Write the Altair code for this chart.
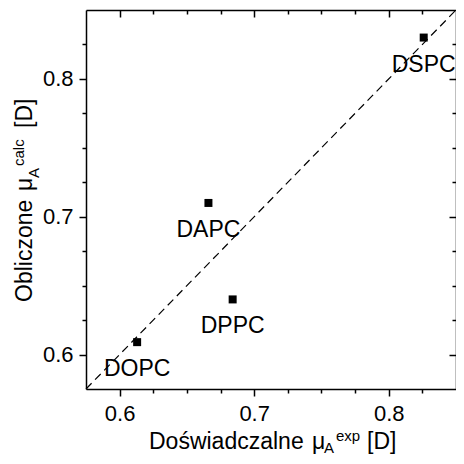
import altair as alt
import pandas as pd

# ---- data ----
names = ["DOPC", "DAPC", "DPPC", "DSPC"]
mu_exp = [0.613, 0.666, 0.684, 0.826]
mu_calc = [0.609, 0.710, 0.640, 0.830]
diag = [0.575, 0.85]
tick_vals = [0.6, 0.625, 0.65, 0.675, 0.7, 0.725, 0.75, 0.775, 0.8, 0.825]

df = pd.DataFrame({"name": names, "exp": mu_exp, "calc": mu_calc})
ddf = pd.DataFrame({"a": diag, "b": diag})

FONT = "Liberation Sans"
W, H = 370, 379
is_major = "abs(datum.value*10 - round(datum.value*10)) < 0.001"
tick_size = {"condition": {"test": is_major, "value": 7}, "value": 4}
label_expr = f"({is_major}) ? format(datum.value, '.1f') : ''"

scale = alt.Scale(domain=diag, nice=False, zero=False)

common = dict(values=tick_vals, grid=False, domainColor="black", domainWidth=1.5,
              tickColor="black", tickWidth=1.5, tickSize=tick_size, title=None)

x_main = alt.Axis(orient="bottom", labelExpr=label_expr, labelFont=FONT, labelFontSize=22,
                  labelColor="black", labelPadding=7, labelFlush=False, labelOverlap=False,
                  **common)
y_main = alt.Axis(orient="left", labelExpr=label_expr, labelFont=FONT, labelFontSize=22,
                  labelColor="black", labelPadding=6, labelFlush=False, labelOverlap=False,
                  **common)
x_mirror = alt.Axis(orient="bottom", offset=-H, labels=False, **common)
y_mirror = alt.Axis(orient="left", offset=-W, labels=False, **common)

points = alt.Chart(df).mark_square(size=64, color="black", opacity=1).encode(
    x=alt.X("exp:Q", scale=scale, axis=x_main),
    y=alt.Y("calc:Q", scale=scale, axis=y_main),
)

labels = alt.Chart(df).mark_text(font=FONT, fontSize=23, color="black", align="center",
                                 baseline="alphabetic", dy=34).encode(
    x=alt.X("exp:Q", scale=scale, axis=None),
    y=alt.Y("calc:Q", scale=scale, axis=None),
    text="name:N",
)

line = alt.Chart(ddf).mark_line(color="black", strokeDash=[8, 5], strokeWidth=1.2).encode(
    x=alt.X("a:Q", scale=scale, axis=x_mirror),
    y=alt.Y("b:Q", scale=scale, axis=y_mirror),
)


def txt(s, x, y, size, angle=0):
    return alt.Chart(alt.Data(values=[{}])).mark_text(
        text=s, font=FONT, fontSize=size, color="black", align="left",
        baseline="alphabetic", angle=angle,
    ).encode(x=alt.value(x), y=alt.value(y))


titles = [
    # x axis title: Doświadczalne μ_A^exp [D]
    txt("Doświadczalne", 63, 439, 23),
    txt("μ", 226, 439, 23),
    txt("A", 238, 443, 15),
    txt("exp", 250, 431, 15),
    txt("[D]", 281, 439, 23),
    # y axis title: Obliczone μ_A^calc [D]
    txt("Obliczone", -54, 292, 23, 270),
    txt("μ", -54, 181, 23, 270),
    txt("A", -47, 168, 15, 270),
    txt("calc", -62, 156, 15, 270),
    txt("[D]", -54, 118, 23, 270),
]

chart = alt.layer(line, points, labels, *titles).resolve_axis(
    x="independent", y="independent"
).properties(
    width=W, height=H,
    padding={"left": 78, "top": 2, "right": 0, "bottom": 67},
    autosize=alt.AutoSizeParams(type="none"),
).configure_view(stroke=None)

chart.save("out.html", embed_options={"renderer": "svg", "actions": False})
